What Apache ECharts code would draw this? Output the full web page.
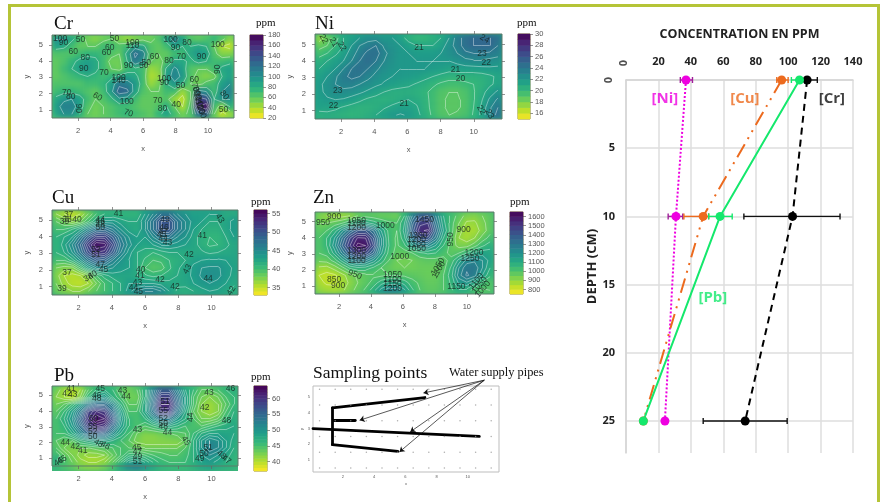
<!DOCTYPE html>
<html><head><meta charset="utf-8">
<script src="https://cdn.jsdelivr.net/npm/echarts@6/dist/echarts.min.js"></script>
<style>
html,body{margin:0;padding:0;background:#fff;width:881px;height:502px;overflow:hidden}
#page{position:absolute;left:0;top:0;width:881px;height:502px;filter:blur(.45px)}
#frame{position:absolute;left:8px;top:4px;width:866px;height:520px;border:3px solid #b5c437;box-sizing:content-box}
.hw{position:absolute;overflow:hidden}
.hi{position:absolute;left:0;top:0;width:100%;height:100%;filter:blur(2.6px)}
#over{position:absolute;left:0;top:0;width:881px;height:502px}
</style></head><body><div id="page"><div id="frame"></div><div id="over"></div></div>
<script>
// Cell values: rows y = 5.5 ... 0.5, columns x = 0.5 ... 11.5
const crGrid=[
[100,100,85,70,55,50,55,60,50,45,50,55,55,65,90,110,90,65,60,65,75,65,50],
[90,85,70,60,60,60,70,70,65,70,90,85,65,60,70,90,80,80,85,80,60,40,35],
[65,65,65,70,75,75,70,65,60,85,125,110,65,60,60,70,70,85,95,90,65,50,50],
[60,65,75,85,90,85,70,55,55,80,115,100,60,55,65,85,85,75,85,80,70,70,75],
[60,70,80,90,95,85,70,60,55,70,75,70,45,50,85,105,90,65,60,60,70,85,90],
[60,65,70,75,80,75,70,75,85,90,85,70,40,45,90,110,95,65,55,50,55,80,90],
[65,65,65,65,70,70,75,90,115,110,95,70,45,55,80,95,80,60,55,65,70,90,100],
[70,75,75,70,65,60,70,95,130,125,90,65,60,60,70,70,45,60,110,100,70,100,110],
[85,95,100,90,70,60,65,75,95,90,70,60,60,60,65,45,35,60,150,140,80,100,100],
[90,110,110,90,65,55,60,65,70,70,65,60,60,65,80,60,40,65,160,175,70,50,80],
[85,100,100,80,60,55,60,65,70,75,70,65,60,75,90,70,55,65,120,130,60,35,45]];
const niGrid=[
[17.5,18.5,19.5,21,21.5,22,22.5,22.5,22,22,21.5,20.5,20,20,20.5,21,22,23.5,24.5,25,25,25,24.5],
[18.5,19,20,21,22,23,23.5,24,22.8,22.3,22,21.5,21,21,21,21.5,22.5,23.5,24.5,25,25,25,24],
[19.5,20,20.8,21.5,22.5,23.5,24.3,24.5,23.3,22.5,22,22,21.8,21.7,21.7,22,22.5,23,23.8,24,24,23.8,23.5],
[20.5,21,21.5,22,23,24,24.6,24,23,22.4,22,22,22,22,22,22,22,22.3,22.6,22.8,22.8,22.6,22.4],
[21,21.5,22,23,24,24.5,24,23.2,22.6,22.2,22,22,22,22,21.8,21.6,21.4,21.5,21.6,21.6,21.7,21.8,21.8],
[21.5,22,22.8,23.7,24.3,24,23.3,22.7,22.2,22,21.9,21.8,21.6,21.3,21,20.7,20.4,20.4,20.4,20.4,20.5,20.8,21.2],
[21.8,22.3,23,23.4,23.4,23,22.6,22.2,21.9,21.6,21.4,21.2,20.9,20.6,20.2,19.8,19.6,19.6,19.8,20,20.3,20.8,21.3],
[21.8,22.2,22.6,22.7,22.5,22.2,21.8,21.4,21,20.7,20.6,20.6,20.5,20.2,19.7,19.2,19,19,19.3,19.9,20.6,21.5,22.2],
[21.6,21.9,22,21.9,21.6,21.2,20.8,20.6,20.5,20.6,20.8,21,20.8,20.3,19.7,19.1,18.9,18.9,19.2,19.9,20.9,22.2,23.2],
[21.5,21.4,21.2,20.9,20.6,20.4,20.4,20.6,20.9,21.2,21.5,21.5,21.1,20.4,19.7,19.1,18.9,18.9,19.2,20,21.2,22.8,24],
[20.5,20.7,20.6,20.4,20.2,20.3,20.6,21,21.5,21.9,22.1,21.9,21.3,20.6,19.8,19.2,19,19.1,19.4,20.1,21.3,23,24.5]];
const cuGrid=[
[37,36,35,36,38,40,41,41,41,41,41,43,45,47,47,45,44,43,43,43,43,42,42],
[39,38,37,38,40,42,43.5,43.5,42.5,42,42,44,47,50,50,47,45,43.5,43,42,42,42.5,43.5],
[40,40,41,42.5,45,47,47.5,46,44,42.5,42,44,47,50,50,47,45,43,42,41.5,41.5,42.5,43.5],
[41,42,43,46,49,51.5,51.5,49,46,44,43,43,45,47,47,45,44,42.5,41.5,41,41,42,43],
[41,42.5,45,48,52,55,54.5,51,47,44.5,43,42.5,43,44,44,43.5,43,42.5,41.5,40.8,41,41.8,42.3],
[41,42,44,47,50.5,53,52.5,49.5,46,43.5,42,41.5,41,41.5,42,42,42,42.2,42.2,41.8,42,42.2,42.4],
[40,40,41.5,44,47,49,48.5,46,44,43,42,40.8,40,40.2,41,41.5,42,42.8,43,43.2,43.2,43,42.6],
[38,37.5,37.5,40,43,45,45,44,43.5,43,42,40,39.2,39.5,40.8,41.8,42.5,43.2,44,44.2,44.2,43.5,42.8],
[37.5,36,35.5,36,37.5,40,41.5,42.5,42.5,42.5,42,41.2,40.7,41,41.5,42,42.5,43.3,44.2,44.6,44.3,43.5,42.6],
[38,36.5,35.5,35.2,36,38,40,41,42,43,43,43,43,42.5,42.3,42.2,42.4,43,43.7,44,43.7,43,42.2],
[38.5,37.5,37,37,38,39,40,41,42,43.5,45,46,46,45,43,41.8,41.5,42,42.5,43,42.8,42.3,41.5]];
const znGrid=[
[930,900,880,880,900,950,980,970,960,960,950,1050,1250,1380,1400,1250,1100,1030,980,930,920,950,980],
[950,950,970,1000,1050,1100,1120,1080,1040,1010,1000,1100,1330,1480,1500,1300,1120,1020,950,890,890,930,980],
[980,1000,1070,1180,1300,1400,1400,1300,1150,1030,1000,1120,1370,1540,1560,1350,1150,1020,920,870,870,920,980],
[1000,1050,1150,1300,1450,1560,1550,1400,1200,1040,990,1090,1300,1430,1430,1280,1100,1000,900,870,900,970,1020],
[1000,1050,1180,1350,1500,1620,1600,1450,1200,1050,990,1040,1160,1230,1230,1150,1050,980,930,930,980,1040,1080],
[1000,1020,1120,1260,1400,1500,1470,1350,1160,1030,980,970,1000,1040,1060,1050,1020,980,1000,1050,1110,1130,1120],
[960,970,1020,1120,1230,1290,1260,1180,1080,1000,950,940,950,970,980,980,980,1020,1120,1220,1240,1200,1130],
[890,880,920,980,1060,1090,1080,1040,1000,970,950,950,950,960,960,960,980,1060,1200,1290,1290,1200,1100],
[850,830,840,880,930,960,980,990,990,1000,1000,990,980,970,960,960,1000,1080,1230,1310,1270,1150,1060],
[870,840,840,870,910,950,980,1020,1080,1120,1120,1080,1020,990,970,970,1000,1060,1160,1190,1120,1040,1000],
[900,880,870,890,930,970,1010,1080,1170,1240,1240,1160,1060,1000,980,980,1000,1040,1090,1080,1020,990,1000]];
const pbGrid=[
[43,41,40,41,44,46,47,46,44,43,44,47,52,56,56,52,48,46,44,44,45,46,47],
[42,41,40,42,46,49,50,47,45,43,43,47,53,59,59,54,49,45,43,42,43,45,46],
[43,44,46,49,53,55,55,52,47,44,44,48,54,61,61,55,49,45,42,41,42,44,46],
[44,46,49,53,59,61,60,55,49,45,45,48,53,59,59,53,48,44,42,41,42,45,47],
[45,47,50,55,60,63,62,57,50,46,45,46,49,52,52,49,47,45,43,43,44,46,47.5],
[45,46,49,53,58,60,59,54,49,46,45,44,45,46,47,46,45,45,45,46,47,47.5,48],
[45,45,47,50,53,54,53,50,47,45,43,42,42,42.5,43,43.5,44,46,48,49,49,48.5,48],
[44,43,43,45,46,47,47,46,45,44,42.5,42,42,42,42,42,43.5,47,50,52,51,49,47.5],
[45,43,42,42,42,42.5,43,44,45,45,44.5,44,44,44,44,44,45,47,50,52,51,49,47],
[47,45,43,41.5,40.5,40.5,41,43,45,47.5,48,47,46,45.5,45,45,45.5,47,49,50,49,47.5,46.5],
[46,45,44,42.5,42,42,43,45,48,51,52,50,48,46.5,46,46,46,47,48,48.5,47.5,47,46.5]];
// Contour labels: x, y, text, rotation
const crLabels=[[1.7,4.6,'60'],[2.45,4.2,'80'],[2.35,3.55,'90'],[3.6,3.3,'70'],[3.75,4.5,'60'],[3.95,4.85,'60'],[4.25,5.35,'50'],[5.35,5.15,'100'],[5.35,4.95,'110'],[2.15,5.3,'50'],[.9,5.35,'100'],[1.1,5.1,'90'],[4.5,3,'100'],[4.5,2.8,'140'],[3.2,1.8,'60',-30],[1.3,2.05,'70'],[1.55,1.8,'80'],[2,1.1,'90',-90],[5.1,.8,'70',-20],[6.05,3.7,'50'],[6.2,3.9,'50'],[6.7,4.3,'60'],[7.6,4,'80'],[8.35,4.25,'70'],[7.7,5.3,'100'],[8,4.8,'90'],[8.7,5.1,'80'],[9.6,4.3,'90'],[7.3,2.9,'100'],[7.3,2.65,'90'],[8.3,2.5,'50'],[8.05,1.3,'40'],[6.9,1.55,'70'],[7.2,1.05,'80'],[9.15,2.85,'60'],[10.6,3.5,'90',90],[10.95,1,'50'],[9.2,2.4,'70',-70],[9.3,2.15,'80',-70],[9.35,1.9,'90',-70],[9.4,1.65,'100',-70],[9.45,1.4,'110',-70],[9.5,1.15,'120',-70],[9.6,.9,'130',-70],[11,1.9,'80',-50],[10.6,5,'100'],[5,1.5,'100'],[5.1,3.7,'90']];
const niLabels=[[.95,5.35,'22',-60],[1.55,5.15,'21',-60],[2.05,4.9,'22',-60],[6.7,4.85,'21'],[10.65,5.35,'24',-30],[10.5,4.45,'23'],[10.75,3.9,'22'],[8.9,3.5,'21'],[9.2,2.95,'20'],[1.8,2.2,'23'],[1.55,1.3,'22'],[5.8,1.4,'21'],[10.45,1.05,'22',-60],[10.95,.8,'23',-60]];
const cuLabels=[[1.4,5.35,'37'],[1.15,4.9,'39'],[1.3,5.05,'38'],[1.9,5.05,'40'],[4.4,5.4,'41'],[3.3,5.05,'44'],[3.3,4.9,'46'],[3.3,4.7,'48'],[3.3,4.55,'50'],[7.2,5,'49'],[7.15,4.55,'46'],[7.1,4.3,'47'],[7,4.1,'45'],[7.1,3.9,'44'],[7.35,3.65,'43'],[9.45,4.05,'41'],[10.5,5.1,'43',-60],[8.65,2.9,'42'],[8.55,2.05,'43',60],[9.8,1.5,'44'],[6.9,1.4,'42'],[7.8,1,'42'],[11.2,.75,'42',60],[5.75,2,'40'],[5.7,1.65,'41'],[5.55,1.25,'43'],[5.3,.95,'44'],[5.6,.7,'45'],[1.3,1.85,'37'],[1,.9,'39'],[3.05,3.25,'52'],[3.05,2.9,'51'],[3.3,2.35,'47'],[3.5,2.05,'45'],[2.6,1.55,'38',30],[2.85,1.7,'40',30]];
const znLabels=[[1.7,5.3,'900'],[1,4.95,'950'],[3.1,5.05,'1050'],[3.1,4.9,'1100'],[3.1,4.65,'1200'],[4.9,4.75,'1000'],[7.35,5.1,'1450'],[6.95,4.15,'1300'],[6.85,3.85,'1200'],[6.85,3.55,'1100'],[6.85,3.3,'1050'],[9.8,4.5,'900'],[9,3.9,'950',90],[10.45,3.1,'1200'],[10.2,2.7,'1250'],[5.8,2.85,'1000'],[8.2,2.2,'1050',60],[8.25,2,'1100',60],[3.1,3.2,'1300'],[3.1,2.85,'1200'],[3.1,2.55,'1100'],[3,1.7,'950',-20],[1.7,1.4,'850'],[1.95,1,'900'],[5.35,1.7,'1050'],[5.35,1.4,'1100'],[5.35,1.15,'1150'],[5.35,.85,'1200'],[9.35,.95,'1150'],[10.6,1.3,'1100',50],[10.8,1.05,'1050',50],[11,.8,'1000',50]];
const pbLabels=[[1.55,5.4,'41'],[1.3,5.1,'42'],[1.65,5.05,'43'],[3.3,5.4,'45'],[3.1,5,'46'],[3.1,4.8,'48'],[4.65,5.3,'43'],[4.85,4.9,'44'],[9.85,5.15,'43'],[9.6,4.2,'42'],[10.9,3.4,'48'],[8.75,3.6,'44',90],[5.55,2.8,'43'],[7.35,2.6,'44'],[8.45,2.1,'45',-60],[9.8,1.7,'51'],[9.55,1.3,'50'],[9.3,.95,'49'],[7.2,4.6,'51'],[7.1,4,'55'],[7.1,3.5,'52'],[7.1,3.2,'50'],[7.1,3,'48'],[2.9,3.5,'60'],[2.85,3,'55'],[2.85,2.7,'52'],[2.85,2.4,'50'],[3.2,1.95,'48',-30],[3.6,1.8,'46',-30],[1.2,2,'44'],[1.8,1.75,'42'],[2.25,1.5,'41'],[1,.9,'45',30],[.8,.75,'46',30],[5.5,1.7,'45'],[5.55,1.4,'47'],[5.55,1.1,'49'],[5.55,.8,'51'],[10.6,1.2,'48',-40],[10.9,.9,'47',-40],[11.15,5.4,'46']];
// Colour bars: tick labels
const crTicks=[20,40,60,80,100,120,140,160,180];
const niTicks=[16,18,20,22,24,26,28,30];
const cuTicks=[35,40,45,50,55];
const znTicks=[800,900,1000,1100,1200,1300,1400,1500,1600];
const pbTicks=[40,45,50,55,60];
const xTicks=[2,4,6,8,10];
const yTicks=[1,2,3,4,5];
// Sampling points panel
const sampleX=[.5,1.5,2.5,3.5,4.5,5.5,6.5,7.5,8.5,9.5,10.5,11.5];
const sampleY=[5.5,4.5,3.5,2.5,1.5,.5];
const pipes=[[[1.32,4.31],[7.25,4.97]],[[1.32,4.31],[1.32,1.98]],[[1.32,1.98],[5.52,1.56]],[[1.4,3.53],[2.79,3.53]],[[.08,3],[10.74,2.51]]];
const arrowStart=[11.06,6.07];
const arrowEnds=[[7.16,5.26],[3.07,3.53],[6.31,2.79],[5.62,1.52]];
// Depth profile
const depths=[0,10,25];
const niVals=[37,30.8,24];
const cuVals=[96,47.6,10.7];
const pbVals=[107,58,10.7];
const crVals=[111.7,102.7,73.5];
const niErr=[[0,33.5,41],[10,26,35]];
const cuErr=[[0,93,100],[10,35.7,51]];
const pbErr=[[0,102,113],[10,51,65.5]];
const crErr=[[0,107,118],[10,72.7,132],[25,47.6,99.4]];
const depthTicks=[5,10,15,20,25];

const viridis=['#fde725','#b5de2b','#6ece58','#35b779','#1f9e89','#26828e','#31688e','#3e4989','#482878','#440154'];
const maps=[
 {n:'Cr',g:crGrid,l:crLabels,t:crTicks,lo:20,hi:180,s:10,cs:20,p:[52,35,234,118],c:[250,263],xr:[.4,11.6],yr:[.5,5.6],ti:[54,15],pp:[256,18],bg:'#5fc86a'},
 {n:'Ni',g:niGrid,l:niLabels,t:niTicks,lo:15,hi:30,s:1,cs:1,p:[315,34,502,119],c:[518,530],xr:[.43,11.7],yr:[.5,5.65],ti:[315,15],pp:[517,18],bg:'#25a585'},
 {n:'Cu',g:cuGrid,l:cuLabels,t:cuTicks,lo:33,hi:56,s:1,cs:1,p:[52,210,238,295],c:[254,267],xr:[.4,11.6],yr:[.5,5.6],ti:[52,189],pp:[251,197],bg:'#2f9e83'},
 {n:'Zn',g:znGrid,l:znLabels,t:znTicks,lo:750,hi:1650,s:50,cs:50,p:[315,212,494,294],c:[510,523],xr:[.5,11.7],yr:[.5,5.6],ti:[313,189],pp:[510,197],bg:'#45b57a'},
 {n:'Pb',g:pbGrid,l:pbLabels,t:pbTicks,lo:37,hi:64,s:1,cs:1,p:[52,386,238,471],c:[254,267],xr:[.4,11.6],yr:[.5,5.6],ti:[54,367],pp:[251,372],bg:'#45b57a'}];

function contours(g,xs,ys,lo,hi,step){
  const out=[];
  for(let L=lo+step;L<hi;L+=step){
    for(let j=0;j<g.length-1;j++)for(let i=0;i<g[0].length-1;i++){
      const c=[[i,j],[i+1,j],[i+1,j+1],[i,j+1]],pts=[];
      for(let k=0;k<4;k++){
        const A=c[k],B=c[(k+1)%4],a=g[A[1]][A[0]],b=g[B[1]][B[0]];
        if((a<L)!==(b<L)){const t=(L-a)/(b-a);
          pts.push([xs[A[0]]+t*(xs[B[0]]-xs[A[0]]),ys[A[1]]+t*(ys[B[1]]-ys[A[1]])]);}
      }
      if(pts.length>=2)out.push({coords:[pts[0],pts[1]]});
      if(pts.length===4)out.push({coords:[pts[2],pts[3]]});
    }
  }
  return out;
}
const F='"Liberation Sans",Arial,sans-serif',SER='"Liberation Serif",serif',B='"Open Sans",sans-serif';
const titles=[],grids=[],xAxes=[],yAxes=[],series=[],vms=[];
const tickTxt={fontSize:7,color:'#555',fontFamily:F,formatter:v=>String(v)};
const head=(text,left,top,size)=>({text,left,top,padding:0,textStyle:{fontFamily:SER,fontSize:size,fontWeight:'normal',color:'#111'}});
function addPlot(p,xr,yr,o){
  const gi=grids.length;
  grids.push({left:p[0],top:p[1],width:p[2]-p[0],height:p[3]-p[1],show:true,borderColor:o.bc||'#5d7a6b',borderWidth:1,backgroundColor:'transparent'});
  const base={type:'value',gridIndex:gi,splitLine:{show:false},axisLine:{show:false},
    axisTick:{show:o.tick!==false,length:3,inside:false,lineStyle:{color:'#666',width:.7}}};
  xAxes.push({...base,min:xr[0],max:xr[1],position:'bottom',name:'x',nameLocation:'middle',nameGap:o.xg,nameTextStyle:{fontSize:o.fs,color:'#555',fontFamily:F},
    axisTick:{...base.axisTick,customValues:xTicks},axisLabel:{...tickTxt,fontSize:o.fs,margin:o.m,customValues:xTicks}});
  xAxes.push({...base,min:xr[0],max:xr[1],position:'top',axisTick:{...base.axisTick,customValues:xTicks},axisLabel:{show:false}});
  yAxes.push({...base,min:yr[0],max:yr[1],position:'left',name:'y',nameLocation:'middle',nameGap:o.yg,nameTextStyle:{fontSize:o.fs,color:'#555',fontFamily:F},
    axisTick:{...base.axisTick,customValues:yTicks},axisLabel:{...tickTxt,fontSize:o.fs,margin:o.m,customValues:yTicks}});
  yAxes.push({...base,min:yr[0],max:yr[1],position:'right',axisTick:{...base.axisTick,customValues:yTicks},axisLabel:{show:false}});
  return {x:xAxes.length-2,y:yAxes.length-2};
}
const page=document.getElementById('page'),over=document.getElementById('over');
maps.forEach(m=>{
  const p=m.p,cols=m.g[0].length,rows=m.g.length;
  const w=document.createElement('div');w.className='hw';
  w.style.cssText=`left:${p[0]}px;top:${p[1]}px;width:${p[2]-p[0]}px;height:${p[3]-p[1]}px;background:${m.bg}`;
  const inner=document.createElement('div');inner.className='hi';w.appendChild(inner);page.insertBefore(w,over);
  const heat=[];m.g.forEach((r,j)=>r.forEach((v,i)=>heat.push([i,rows-1-j,v])));
  echarts.init(inner,null,{width:p[2]-p[0],height:p[3]-p[1]}).setOption({animation:false,
    grid:{left:0,right:0,top:0,bottom:0},
    xAxis:{type:'category',show:false,data:m.g[0].map((_,i)=>i)},
    yAxis:{type:'category',show:false,data:m.g.map((_,i)=>i)},
    visualMap:{show:false,min:m.lo,max:m.hi,dimension:2,inRange:{color:viridis}},
    series:[{type:'heatmap',data:heat,progressive:0}]});
  const ax=addPlot(p,m.xr,m.yr,{xg:27,yg:21,fs:7.5,m:9});
  const xs=m.g[0].map((_,i)=>m.xr[0]+(i+.5)*(m.xr[1]-m.xr[0])/cols);
  const ys=m.g.map((_,j)=>m.yr[1]-(j+.5)*(m.yr[1]-m.yr[0])/rows);
  series.push({type:'lines',coordinateSystem:'cartesian2d',xAxisIndex:ax.x,yAxisIndex:ax.y,silent:true,
    data:contours(m.g,xs,ys,m.lo,m.hi,m.cs),lineStyle:{color:'#fff',width:.6,opacity:.65}});
  series.push({type:'scatter',xAxisIndex:ax.x,yAxisIndex:ax.y,symbolSize:1,silent:true,itemStyle:{color:'transparent'},z:5,
    label:{show:true,position:'inside',formatter:'{b}',fontSize:8.5,color:'#17231f',fontFamily:F},
    data:m.l.map(d=>({name:d[2],value:[d[0],d[1]],label:{rotate:d[3]||0}}))});
  titles.push(head(m.n,m.ti[0],m.ti[1],19));
  titles.push(head('ppm',m.pp[0],m.pp[1],11));
  const gi=grids.length;
  grids.push({left:m.c[0],top:p[1],width:m.c[1]-m.c[0],height:p[3]-p[1],show:true,borderColor:'#8a7f45',borderWidth:1,backgroundColor:'transparent'});
  const lv=[];for(let v=m.lo;v<m.hi;v+=m.s)lv.push(v);
  xAxes.push({type:'category',gridIndex:gi,show:false,data:['']});
  yAxes.push({type:'category',gridIndex:gi,show:false,data:lv});
  const yCat=yAxes.length-1;
  yAxes.push({type:'value',gridIndex:gi,position:'right',min:m.lo,max:m.hi,splitLine:{show:false},axisLine:{show:false},
    axisTick:{show:true,length:3,customValues:m.t,lineStyle:{color:'#666',width:.7}},
    axisLabel:{...tickTxt,fontSize:7.5,margin:5,customValues:m.t}});
  series.push({type:'heatmap',xAxisIndex:xAxes.length-1,yAxisIndex:yCat,progressive:0,silent:true,
    data:lv.map((v,i)=>[0,i,v+m.s/2])});
  vms.push({show:false,seriesIndex:series.length-1,min:m.lo,max:m.hi,dimension:2,inRange:{color:viridis}});
});
{
  const ax=addPlot([313,386,499,472],[.08,12],[.25,5.7],{xg:10,yg:6,fs:4,m:3,bc:'#bdbdbd',tick:false});
  const pts=[];sampleY.forEach(y=>sampleX.forEach(x=>pts.push([x,y])));
  series.push({type:'scatter',xAxisIndex:ax.x,yAxisIndex:ax.y,symbolSize:1.5,itemStyle:{color:'#999'},silent:true,data:pts});
  series.push({type:'lines',coordinateSystem:'cartesian2d',xAxisIndex:ax.x,yAxisIndex:ax.y,silent:true,
    data:pipes.map(c=>({coords:c})),lineStyle:{color:'#000',width:2.8,opacity:1,cap:'round'}});
  series.push({type:'lines',coordinateSystem:'cartesian2d',xAxisIndex:ax.x,yAxisIndex:ax.y,silent:true,clip:false,z:6,
    symbol:['none','arrow'],symbolSize:5,
    data:arrowEnds.map(e=>({coords:[arrowStart,e]})),lineStyle:{color:'#111',width:.7,opacity:1}});
  titles.push(head('Sampling points',313,364,17.5));
  titles.push(head('Water supply pipes',449,367,12.4));
}
{
  const gi=grids.length;
  grids.push({left:626,top:80,width:227,height:373,show:false});
  const bold={fontFamily:B,fontWeight:'bold',fontSize:11,color:'#222'};
  const gridLine={show:true,lineStyle:{color:'#dedede',width:1.5}};
  xAxes.push({type:'value',gridIndex:gi,position:'top',min:0,max:140,interval:20,splitLine:gridLine,
    axisLine:{show:true,onZero:false,lineStyle:{color:'#d5d5d5',width:1.5}},axisTick:{show:false},
    axisLabel:{...bold,margin:13,showMinLabel:false},
    name:'CONCENTRATION EN PPM',nameLocation:'middle',nameGap:39,nameTextStyle:{...bold,fontSize:12.5}});
  yAxes.push({type:'value',gridIndex:gi,inverse:true,min:0,max:27.35,interval:5,
    splitLine:{...gridLine,showMaxLine:false},axisLine:{show:true,onZero:false,lineStyle:{color:'#d5d5d5',width:1.5}},axisTick:{show:false},
    axisLabel:{...bold,margin:11,showMinLabel:false,showMaxLabel:false,formatter:v=>depthTicks.includes(v)?String(v):''},
    name:'DEPTH (CM)',nameLocation:'middle',nameGap:27,nameTextStyle:{...bold,fontSize:13}});
  const xi=xAxes.length-1,yi=yAxes.length-1;
  const errSeries=(d,col)=>({type:'custom',xAxisIndex:xi,yAxisIndex:yi,silent:true,z:3,
    encode:{x:[1,2],y:0},data:d,renderItem:(pr,api)=>{
      const a=api.coord([api.value(1),api.value(0)]),b=api.coord([api.value(2),api.value(0)]);
      const st={stroke:col,lineWidth:1.4};
      const ln=(x1,y1,x2,y2)=>({type:'line',shape:{x1,y1,x2,y2},style:st});
      return {type:'group',children:[ln(a[0],a[1],b[0],b[1]),ln(a[0],a[1]-3,a[0],a[1]+3),ln(b[0],b[1]-3,b[0],b[1]+3)]};
    }});
  const lineSeries=(v,col,type,w)=>({type:'line',xAxisIndex:xi,yAxisIndex:yi,z:4,silent:true,
    data:v.map((x,i)=>[x,depths[i]]),symbol:'circle',symbolSize:9,itemStyle:{color:col},
    lineStyle:{color:col,width:w,type}});
  const NI='#ee00e0',CU='#ec6a1e',PB='#14e86c',CR='#000';
  series.push(errSeries(niErr,'#a0209a'),errSeries(cuErr,CU),errSeries(pbErr,PB),errSeries(crErr,'#111'));
  series.push(lineSeries(niVals,NI,[2,2],2),lineSeries(crVals,CR,[7,5],2),lineSeries(cuVals,CU,[15,6,2,6,2,6],2),lineSeries(pbVals,PB,'solid',2));
  const tag=(t,x,y,c)=>({value:[x,y],name:t,label:{color:c}});
  series.push({type:'scatter',xAxisIndex:xi,yAxisIndex:yi,symbolSize:1,silent:true,itemStyle:{color:'transparent'},z:6,
    label:{show:true,position:'inside',formatter:'{b}',fontFamily:B,fontWeight:'bold',fontSize:15},
    data:[tag('[Ni]',24,1.4,NI),tag('[Cu]',73.3,1.4,CU),tag('[Cr]',127,1.4,'#111'),tag('[Pb]',53.6,16,PB)]});
  series.push({type:'scatter',xAxisIndex:xi,yAxisIndex:yi,symbolSize:1,silent:true,itemStyle:{color:'transparent'},z:6,
    label:{show:true,formatter:'0',rotate:90,position:'inside',align:'center',verticalAlign:'middle',...bold},
    data:[{value:[0,0],label:{offset:[17,-2]}},{value:[0,0],label:{offset:[0,-17]}}]});
}
echarts.init(over,null,{width:881,height:502}).setOption({animation:false,backgroundColor:'transparent',
  title:titles,grid:grids,xAxis:xAxes,yAxis:yAxes,series,visualMap:vms});
</script></body></html>
